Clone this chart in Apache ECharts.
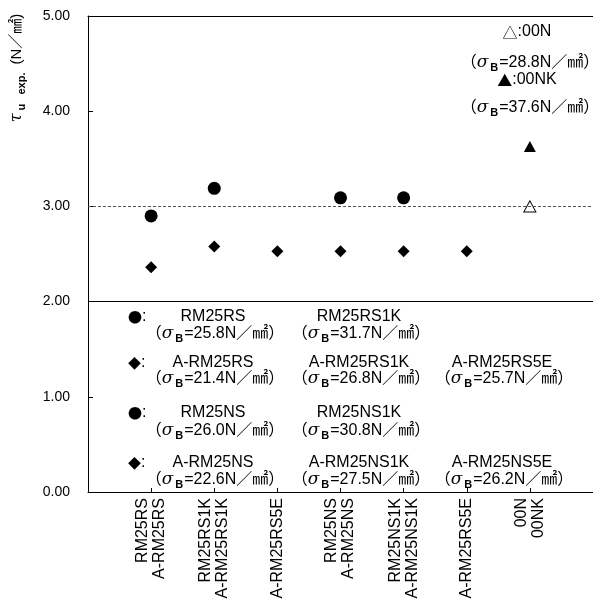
<!DOCTYPE html>
<html>
<head>
<meta charset="utf-8">
<script src="https://cdn.jsdelivr.net/npm/echarts@6/dist/echarts.min.js"></script>
<style>
  html, body { margin: 0; padding: 0; background: #fff; }
  #chart { width: 593px; height: 610px; }
</style>
</head>
<body>
<div id="chart"></div>
<script>
// x categories (two specimens share one position)
const categories = [
  'RM25RS\nA-RM25RS',
  'RM25RS1K\nA-RM25RS1K',
  'A-RM25RS5E',
  'RM25NS\nA-RM25NS',
  'RM25NS1K\nA-RM25NS1K',
  'A-RM25RS5E',
  '00N\n00NK',
]
// τu exp. values (N/mm2)
const circleValues = [2.90, 3.19, null, 3.09, 3.09, null, null]
const diamondValues = [2.36, 2.58, 2.53, 2.53, 2.53, 2.53, null]
const filledTriValues = [null, null, null, null, null, null, 3.63]
const hollowTriValues = [null, null, null, null, null, null, 3.00]
const yTicks = [0, 1, 2, 3, 4, 5]

// legend notes written inside the plot
const noteMarks = ['●', '◆', '●', '◆']
const noteNames = [
  ['RM25RS', 'RM25RS1K', null],
  ['A-RM25RS', 'A-RM25RS1K', 'A-RM25RS5E'],
  ['RM25NS', 'RM25NS1K', null],
  ['A-RM25NS', 'A-RM25NS1K', 'A-RM25NS5E'],
]
const noteSigma = [
  ['25.8', '31.7', null],
  ['21.4', '26.8', '25.7'],
  ['26.0', '30.8', null],
  ['22.6', '27.5', '26.2'],
]

const FONT = '"Liberation Sans", "Noto Sans CJK JP", sans-serif'
const CJK = '"Noto Sans CJK JP", sans-serif'
const rich = {
  p: { fontSize: 16, fontFamily: FONT, color: '#000' },
  g: { fontSize: 17, fontStyle: 'italic', fontFamily: '"DejaVu Serif", serif', color: '#000', padding: [0, 2, 0, 0] },
  b: { fontSize: 11, fontWeight: 'bold', fontFamily: FONT, color: '#000', padding: [9, 1, 0, 0] },
  m: { fontSize: 14, fontFamily: CJK, color: '#000' },
  d: { fontSize: 13, fontFamily: CJK, color: '#000' },
  t: { fontSize: 15, fontFamily: CJK, color: '#000' },
}
function sigma(v) {
  return '{p|（}{g|σ}{b|B}{p|=' + v + 'N／㎟）}'
}

// layout of notes (pixels)
const colX = [213, 359, 502]
const rowNameY = [317, 363, 413, 463]
const rowSigY = [334, 379, 431, 480]

const graphics = []
noteMarks.forEach((m, r) => {
  graphics.push({
    type: 'text', x: 128, y: rowNameY[r],
    style: { text: (m === '●' ? '{m|●}' : '{d|◆}') + '{p|:}', rich: rich, align: 'left', verticalAlign: 'middle' },
  })
  noteNames[r].forEach((n, c) => {
    if (!n) return
    graphics.push({
      type: 'text', x: colX[c], y: rowNameY[r],
      style: { text: n, fontSize: 16, fontFamily: FONT, fill: '#000', align: 'center', verticalAlign: 'middle' },
    })
    graphics.push({
      type: 'text', x: colX[c] + 2, y: rowSigY[r],
      style: { text: sigma(noteSigma[r][c]), rich: rich, align: 'center', verticalAlign: 'middle' },
    })
  })
})
// top right notes
graphics.push(
  { type: 'text', x: 527, y: 32, style: { text: '{t|△}{p|:00N}', rich: rich, align: 'center', verticalAlign: 'middle' } },
  { type: 'text', x: 530, y: 63, style: { text: sigma('28.8'), rich: rich, align: 'center', verticalAlign: 'middle' } },
  { type: 'text', x: 527, y: 80, style: { text: '{t|▲}{p|:00NK}', rich: rich, align: 'center', verticalAlign: 'middle' } },
  { type: 'text', x: 530, y: 108, style: { text: sigma('37.6'), rich: rich, align: 'center', verticalAlign: 'middle' } },
)
// y axis name
graphics.push({
  type: 'text', x: 17, y: 68, rotation: Math.PI / 2,
  style: {
    text: '{t|τ}{s|u   exp.}{n|(N／㎟)}',
    align: 'center', verticalAlign: 'middle',
    rich: {
      t: { fontSize: 16, fontStyle: 'italic', fontFamily: '"DejaVu Serif", serif', color: '#000', padding: [0, 3, 0, 0] },
      s: { fontSize: 11, fontWeight: 'bold', fontFamily: FONT, color: '#000', padding: [9, 8, 0, 0] },
      n: { fontSize: 15, fontFamily: FONT, color: '#000' },
    },
  },
})

const toPairs = vals => vals.map((v, i) => [i + 1, v]).filter(d => d[1] != null)

const chart = echarts.init(document.getElementById('chart'))
chart.setOption({
  animation: false,
  backgroundColor: '#fff',
  grid: { left: 88, right: 0, top: 16, bottom: 118 },
  xAxis: [{
    type: 'category',
    data: [''].concat(categories, ['']),
    boundaryGap: false,
    axisLine: { lineStyle: { color: '#000', width: 1 } },
    axisTick: { inside: true, length: 4, interval: 0, lineStyle: { color: '#000' } },
    axisLabel: {
      interval: 0, rotate: 90, margin: 6, color: '#000',
      fontSize: 16, fontFamily: FONT, lineHeight: 17,
    },
    splitLine: { show: false },
  }, {
    type: 'value', position: 'top', min: 0, max: 1,
    axisLine: { show: true, lineStyle: { color: '#000', width: 1 } },
    axisTick: { show: false }, axisLabel: { show: false }, splitLine: { show: false },
  }],
  yAxis: {
    type: 'value', min: yTicks[0], max: yTicks[yTicks.length - 1], interval: 1,
    axisLine: { show: true, lineStyle: { color: '#000', width: 1 } },
    axisTick: { show: true, inside: true, length: 5, lineStyle: { color: '#000' } },
    axisLabel: { color: '#000', fontSize: 14, fontFamily: FONT, margin: 18, formatter: v => v.toFixed(2) },
    splitLine: { show: false },
  },
  series: [
    {
      type: 'scatter', symbol: 'circle', symbolSize: 13,
      itemStyle: { color: '#000', opacity: 1 },
      data: toPairs(circleValues),
      markLine: {
        silent: true, symbol: 'none', label: { show: false },
        data: [
          { yAxis: 3, lineStyle: { type: [3, 2], color: '#555', width: 1 } },
          { yAxis: 2, lineStyle: { type: 'solid', color: '#000', width: 1 } },
        ],
      },
    },
    {
      type: 'scatter', symbol: 'diamond', symbolSize: [12, 12],
      itemStyle: { color: '#000', opacity: 1 },
      data: toPairs(diamondValues),
    },
    {
      type: 'scatter', symbol: 'triangle', symbolSize: [12, 11],
      itemStyle: { color: '#000', opacity: 1 },
      data: toPairs(filledTriValues),
    },
    {
      type: 'scatter', symbol: 'triangle', symbolSize: [12, 11],
      itemStyle: { color: '#fff', borderColor: '#000', borderWidth: 1, opacity: 1 },
      data: toPairs(hollowTriValues),
    },
  ],
  graphic: graphics,
})
</script>
</body>
</html>
